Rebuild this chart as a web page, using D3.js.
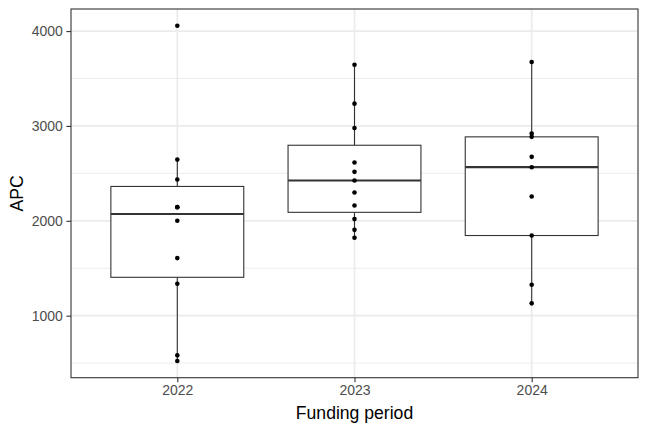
<!DOCTYPE html>
<html>
<head>
<meta charset="utf-8">
<script src="https://cdn.jsdelivr.net/npm/d3@7"></script>
<style>
  body { margin: 0; background: #fff; }
  svg { display: block; font-family: "Liberation Sans", Arial, sans-serif; }
</style>
</head>
<body>
<svg id="chart"></svg>
<script>
// values
var periods = ["2022", "2023", "2024"];
var apc2022 = [4056, 2645, 2435, 2144, 2144, 2000, 1607, 1337, 582, 523];
var apc2023 = [3645, 3235, 2979, 2614, 2516, 2425, 2298, 2161, 2018, 1905, 1821];
var apc2024 = [3674, 2921, 2885, 2674, 2565, 2256, 1845, 1326, 1130];
var yTicks = [1000, 2000, 3000, 4000];
var yMinor = [500, 1500, 2500, 3500];

var groups = [apc2022, apc2023, apc2024];

var W = 648, H = 432;
var margin = {top: 9, right: 10, bottom: 54.3, left: 71},
    width = W - margin.left - margin.right,
    height = H - margin.top - margin.bottom;

var svg = d3.select("#chart").attr("width", W).attr("height", H);
svg.append("rect").attr("width", W).attr("height", H).attr("fill", "#fff");

var g = svg.append("g")
  .attr("transform", "translate(" + margin.left + "," + margin.top + ")");

var all = d3.merge(groups);
var lo = d3.min(all), hi = d3.max(all), pad = (hi - lo) * 0.05;

var x = d3.scalePoint().domain(periods).range([0, width]).padding(0.6);
var y = d3.scaleLinear().domain([lo - pad, hi + pad]).range([height, 0]);
var boxW = x.step() * 0.75;

// grid
g.selectAll(".minor").data(yMinor.filter(function(d){ return d > lo - pad; }))
  .enter().append("line")
  .attr("x1", 0).attr("x2", width)
  .attr("y1", function(d){ return y(d); }).attr("y2", function(d){ return y(d); })
  .attr("stroke", "#ebebeb").attr("stroke-width", 0.9);
g.selectAll(".major").data(yTicks)
  .enter().append("line")
  .attr("x1", 0).attr("x2", width)
  .attr("y1", function(d){ return y(d); }).attr("y2", function(d){ return y(d); })
  .attr("stroke", "#ebebeb").attr("stroke-width", 1.7);
g.selectAll(".vmajor").data(periods)
  .enter().append("line")
  .attr("x1", function(d){ return x(d); }).attr("x2", function(d){ return x(d); })
  .attr("y1", 0).attr("y2", height)
  .attr("stroke", "#ebebeb").attr("stroke-width", 1.7);

// boxplot stats (R type 7 quantiles, same as d3.quantile)
var stats = groups.map(function(v, i) {
  var s = v.slice().sort(d3.ascending);
  var q1 = d3.quantile(s, .25), med = d3.quantile(s, .5), q3 = d3.quantile(s, .75);
  var iqr = q3 - q1;
  var inside = s.filter(function(d){ return d >= q1 - 1.5 * iqr && d <= q3 + 1.5 * iqr; });
  return {key: periods[i], q1: q1, med: med, q3: q3,
          wlo: d3.min(inside), whi: d3.max(inside)};
});

var box = g.selectAll(".box").data(stats).enter().append("g");
box.append("line")
  .attr("x1", function(d){ return x(d.key); }).attr("x2", function(d){ return x(d.key); })
  .attr("y1", function(d){ return y(d.q3); }).attr("y2", function(d){ return y(d.whi); })
  .attr("stroke", "#333").attr("stroke-width", 1.1);
box.append("line")
  .attr("x1", function(d){ return x(d.key); }).attr("x2", function(d){ return x(d.key); })
  .attr("y1", function(d){ return y(d.q1); }).attr("y2", function(d){ return y(d.wlo); })
  .attr("stroke", "#333").attr("stroke-width", 1.1);
box.append("rect")
  .attr("x", function(d){ return x(d.key) - boxW / 2; })
  .attr("y", function(d){ return y(d.q3); })
  .attr("width", boxW)
  .attr("height", function(d){ return y(d.q1) - y(d.q3); })
  .attr("fill", "#fff").attr("stroke", "#333").attr("stroke-width", 1.1);
box.append("line")
  .attr("x1", function(d){ return x(d.key) - boxW / 2; })
  .attr("x2", function(d){ return x(d.key) + boxW / 2; })
  .attr("y1", function(d){ return y(d.med); }).attr("y2", function(d){ return y(d.med); })
  .attr("stroke", "#333").attr("stroke-width", 2.2);

// points
groups.forEach(function(v, i) {
  g.selectAll(".pt" + i).data(v).enter().append("circle")
    .attr("cx", x(periods[i]))
    .attr("cy", function(d){ return y(d); })
    .attr("r", 2.3)
    .attr("fill", "#000");
});

// panel border
g.append("rect").attr("width", width).attr("height", height)
  .attr("fill", "none").attr("stroke", "#333").attr("stroke-width", 1.1);

// axes
var yAxis = g.append("g")
  .call(d3.axisLeft(y).tickValues(yTicks).tickSize(4.6).tickPadding(3.5).tickFormat(d3.format("d")));
var xAxis = g.append("g").attr("transform", "translate(0," + height + ")")
  .call(d3.axisBottom(x).tickSize(4.6).tickPadding(2.5));
[yAxis, xAxis].forEach(function(a) {
  a.select(".domain").remove();
  a.selectAll(".tick line").attr("stroke", "#333").attr("stroke-width", 1.1);
  a.selectAll(".tick text").attr("fill", "#4d4d4d")
    .style("font-size", "14px").style("font-family", "Liberation Sans, Arial, sans-serif");
});

// titles
svg.append("text")
  .attr("x", margin.left + width / 2).attr("y", 418.5)
  .attr("text-anchor", "middle")
  .style("font-size", "17.6px").attr("fill", "#000")
  .text("Funding period");
svg.append("text")
  .attr("transform", "translate(23," + (margin.top + height / 2) + ") rotate(-90)")
  .attr("text-anchor", "middle")
  .style("font-size", "17.6px").attr("fill", "#000")
  .text("APC");
</script>
</body>
</html>
